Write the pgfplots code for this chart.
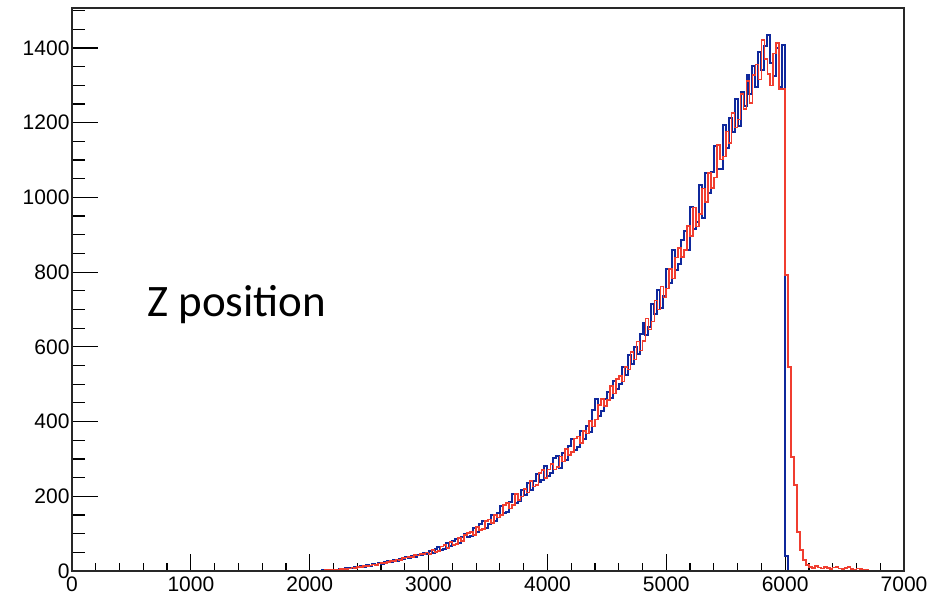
\documentclass[border=0pt]{standalone}
\usepackage{fontspec}
\setmainfont{Liberation Sans}
\newfontfamily\carlito{Carlito}
\usepackage{pgfplots}
\usepackage{pgfplotstable}
\pgfplotsset{compat=1.18}
\definecolor{hblue}{RGB}{15,40,155}
\definecolor{hred}{RGB}{240,62,48}
\definecolor{frame}{RGB}{40,40,40}

\pgfplotstableread{
x y
0 0
2000 0
2025 0
2050 1
2075 0
2100 2
2125 1
2150 3
2175 2
2200 4
2225 3
2250 6
2275 5
2300 7
2325 9
2350 7
2375 11
2400 10
2425 13
2450 12
2475 16
2500 14
2525 18
2550 17
2575 21
2600 19
2625 24
2650 26
2675 23
2700 30
2725 28
2750 33
2775 31
2800 37
2825 35
2850 41
2875 38
2900 44
2925 42
2950 48
2975 45
3000 54
3025 48
3050 59
3075 64
3100 55
3125 59
3150 75
3175 67
3200 80
3225 86
3250 75
3275 90
3300 100
3325 90
3350 95
3375 114
3400 104
3425 125
3450 134
3475 116
3500 125
3525 149
3550 134
3575 155
3600 174
3625 156
3650 158
3675 186
3700 206
3725 182
3750 187
3775 217
3800 203
3825 236
3850 217
3875 240
3900 260
3925 237
3950 243
3975 280
4000 255
4025 263
4050 303
4075 307
4100 275
4125 315
4150 297
4175 334
4200 353
4225 324
4250 331
4275 374
4300 353
4325 387
4350 372
4375 431
4400 460
4425 416
4450 429
4475 460
4500 480
4525 463
4550 509
4575 486
4600 500
4625 545
4650 525
4675 578
4700 553
4725 600
4750 582
4775 635
4800 664
4825 632
4850 652
4875 716
4900 687
4925 751
4950 705
4975 737
5000 808
5025 770
5050 860
5075 805
5100 823
5125 885
5150 911
5175 860
5200 975
5225 915
5250 935
5275 1032
5300 945
5325 1064
5350 1012
5375 1068
5400 1138
5425 1076
5450 1075
5475 1195
5500 1133
5525 1213
5550 1175
5575 1264
5600 1190
5625 1283
5650 1245
5675 1327
5700 1276
5725 1352
5750 1295
5775 1390
5800 1340
5825 1405
5850 1436
5875 1360
5900 1325
5925 1400
5950 1295
5975 1408
6000 40
6025 0
7000 0
}\bluedata

\pgfplotstableread{
x y
0 0
2000 0
2025 1
2050 0
2075 1
2100 1
2125 2
2150 2
2175 4
2200 3
2225 4
2250 5
2275 6
2300 6
2325 7
2350 9
2375 8
2400 11
2425 10
2450 14
2475 13
2500 15
2525 17
2550 16
2575 20
2600 22
2625 21
2650 24
2675 27
2700 26
2725 31
2750 30
2775 34
2800 36
2825 38
2850 37
2875 43
2900 41
2925 46
2950 45
2975 49
3000 46
3025 57
3050 51
3075 54
3100 66
3125 70
3150 61
3175 78
3200 69
3225 73
3250 88
3275 81
3300 96
3325 101
3350 105
3375 97
3400 118
3425 110
3450 112
3475 134
3500 138
3525 128
3550 150
3575 143
3600 150
3625 176
3650 182
3675 167
3700 177
3725 206
3750 190
3775 199
3800 219
3825 210
3850 241
3875 226
3900 230
3925 263
3950 270
3975 249
4000 272
4025 287
4050 272
4075 278
4100 306
4125 293
4150 326
4175 310
4200 319
4225 355
4250 360
4275 343
4300 374
4325 368
4350 401
4375 387
4400 405
4425 444
4450 460
4475 441
4500 457
4525 495
4550 475
4575 514
4600 522
4625 507
4650 546
4675 539
4700 586
4725 566
4750 614
4775 590
4800 616
4825 676
4850 646
4875 668
4900 724
4925 700
4950 761
4975 732
5000 756
5025 809
5050 783
5075 839
5100 864
5125 840
5150 860
5175 923
5200 896
5225 973
5250 922
5275 956
5300 1024
5325 987
5350 1066
5375 1025
5400 1053
5425 1141
5450 1101
5475 1110
5500 1176
5525 1145
5550 1226
5575 1187
5600 1208
5625 1277
5650 1237
5675 1311
5700 1253
5725 1327
5750 1356
5775 1316
5800 1421
5825 1370
5850 1330
5875 1300
5900 1385
5925 1413
5950 1290
5975 1290
6000 792
6025 546
6050 305
6075 230
6100 104
6125 56
6150 29
6175 16
6200 11
6225 8
6250 13
6275 9
6300 7
6325 10
6350 8
6375 6
6400 9
6425 11
6450 7
6475 5
6500 8
6525 10
6550 6
6575 4
6600 7
6625 5
6650 3
6675 2
6700 0
7000 0
}\reddata

\begin{document}
\begin{tikzpicture}
\pgfplotsset{
  common/.style={
    at={(0,0)}, anchor=south west,
    scale only axis, width=832pt, height=563pt,
    xmin=0, xmax=7000, ymin=0, ymax=1507,
    axis line style={frame, line width=1.3pt},
    tick align=inside, tick pos=left,
    tick style={black, line width=1.2pt},
    ticklabel style={font=\fontsize{21}{21}\selectfont},
    /pgf/number format/1000 sep={},
    /pgf/number format/assume math mode=true,
  }
}
\begin{axis}[common, clip=false,
  xtick={0,1000,...,7000},
  minor xtick={200,400,...,6800},
  ytick=\empty, minor ytick={},
  major tick length=17pt, minor tick length=8pt,
  xticklabel style={yshift=-2pt},
]
\addplot[const plot, hblue, line width=2pt] table[x=x,y=y] {\bluedata};
\addplot[const plot, hred, line width=1.6pt] table[x=x,y=y] {\reddata};
\end{axis}
\begin{axis}[common,
  xtick=\empty, minor xtick={},
  ytick={0,200,...,1400},
  minor ytick={50,100,...,1500},
  major tick length=26pt, minor tick length=13pt,
  yticklabel style={xshift=1pt},
]
\end{axis}
\node[anchor=base west, inner sep=0pt, font=\carlito\fontsize{45}{54}\selectfont] at (75pt,254pt) {Z position};
\path[use as bounding box] (-72pt,-26pt) rectangle (859pt,571pt);
\end{tikzpicture}
\end{document}
